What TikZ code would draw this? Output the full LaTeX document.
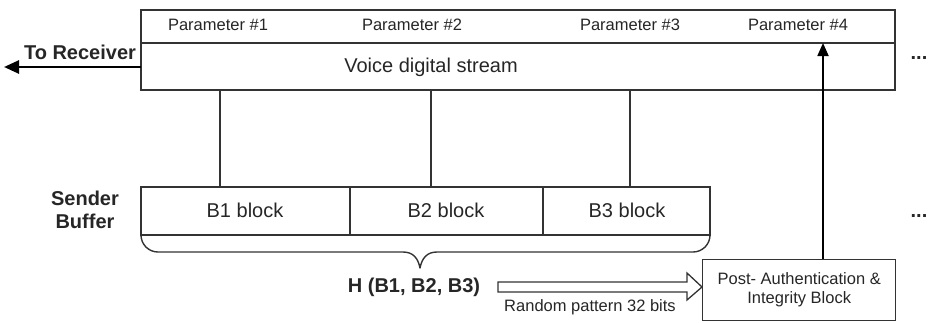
\documentclass[tikz,border=0pt]{standalone}
\usepackage{fontspec}
\setmainfont{Liberation Sans}
\usetikzlibrary{arrows.meta}
\definecolor{ln}{HTML}{333333}
\begin{document}
\begin{tikzpicture}[x=1pt,y=-1pt,
  every node/.style={inner sep=0pt,text=black!85},
  small/.style={font=\fontsize{16.5}{19}\selectfont},
  big/.style={font=\fontsize{20}{23}\selectfont},
  bigb/.style={font=\fontsize{20}{23}\selectfont\bfseries},
  box/.style={draw=ln,line width=1.4pt},
  conn/.style={draw=ln,line width=1.4pt}]
\useasboundingbox (0,0) rectangle (931,322);
% top stream box
\draw[box] (141,10) rectangle (895,90);
\draw[box] (141,43) -- (895,43);
\node[small] (p1) at (218,25) {Parameter \#1};
\node[small] (p2) at (412,25) {Parameter \#2};
\node[small] (p3) at (630,25) {Parameter \#3};
\node[small] (p4) at (798,25) {Parameter \#4};
\node[big] (vds) at (431,67) {Voice digital stream};
\node[anchor=base,bigb] (d1) at (919,59) {...};
% To receiver
\coordinate (rxs) at (141,67);
\coordinate (rxe) at (4,67);
\draw[draw=black,line width=2.6pt,-{Triangle[length=15pt,width=13pt]}] (rxs) -- (rxe);
\node[bigb] (torx) at (80,52) {To Receiver};
% buffer
\draw[box] (141,187) rectangle (710,235);
\draw[box] (350,187) -- (350,235);
\draw[box] (543,187) -- (543,235);
\node[big] (b1) at (245,210) {B1 block};
\node[big] (b2) at (446,210) {B2 block};
\node[big] (b3) at (627,210) {B3 block};
\node[bigb,align=center] (sb) at (85,210) {Sender\\Buffer};
\node[anchor=base,bigb] (d2) at (919,217) {...};
% vertical connectors
\draw[conn] (220,90) -- (220,187);
\draw[conn] (431,90) -- (431,187);
\draw[conn] (630,90) -- (630,187);
% brace
\draw[conn,line join=round] (141,235) .. controls (141,244.4) and (148.6,252) .. (158,252)
  -- (403,252) .. controls (413,252) and (418,258) .. (420,268)
  .. controls (422,258) and (427,252) .. (437,252)
  -- (693,252) .. controls (702.4,252) and (710,244.4) .. (710,235);
\node[bigb] (h) at (414,287) {H (B1, B2, B3)};
% hollow arrow
\draw[draw=ln,line width=1.3pt,line join=miter] (498,282) -- (687,282) -- (687,273) -- (702,287)
  -- (687,300) -- (687,292) -- (498,292) -- cycle;
\node[small] (rp) at (590,307) {Random pattern 32 bits};
% post block
\node[box,minimum width=193pt,minimum height=61pt,anchor=north west,align=center,small] (post) at (702,259)
  {Post- Authentication \&\\Integrity Block};
\coordinate (p4in) at (823,43);
\draw[draw=black,line width=1.8pt,-{Triangle[length=13pt,width=11pt]}] (post.north -| p4in) -- (p4in);
\end{tikzpicture}
\end{document}
